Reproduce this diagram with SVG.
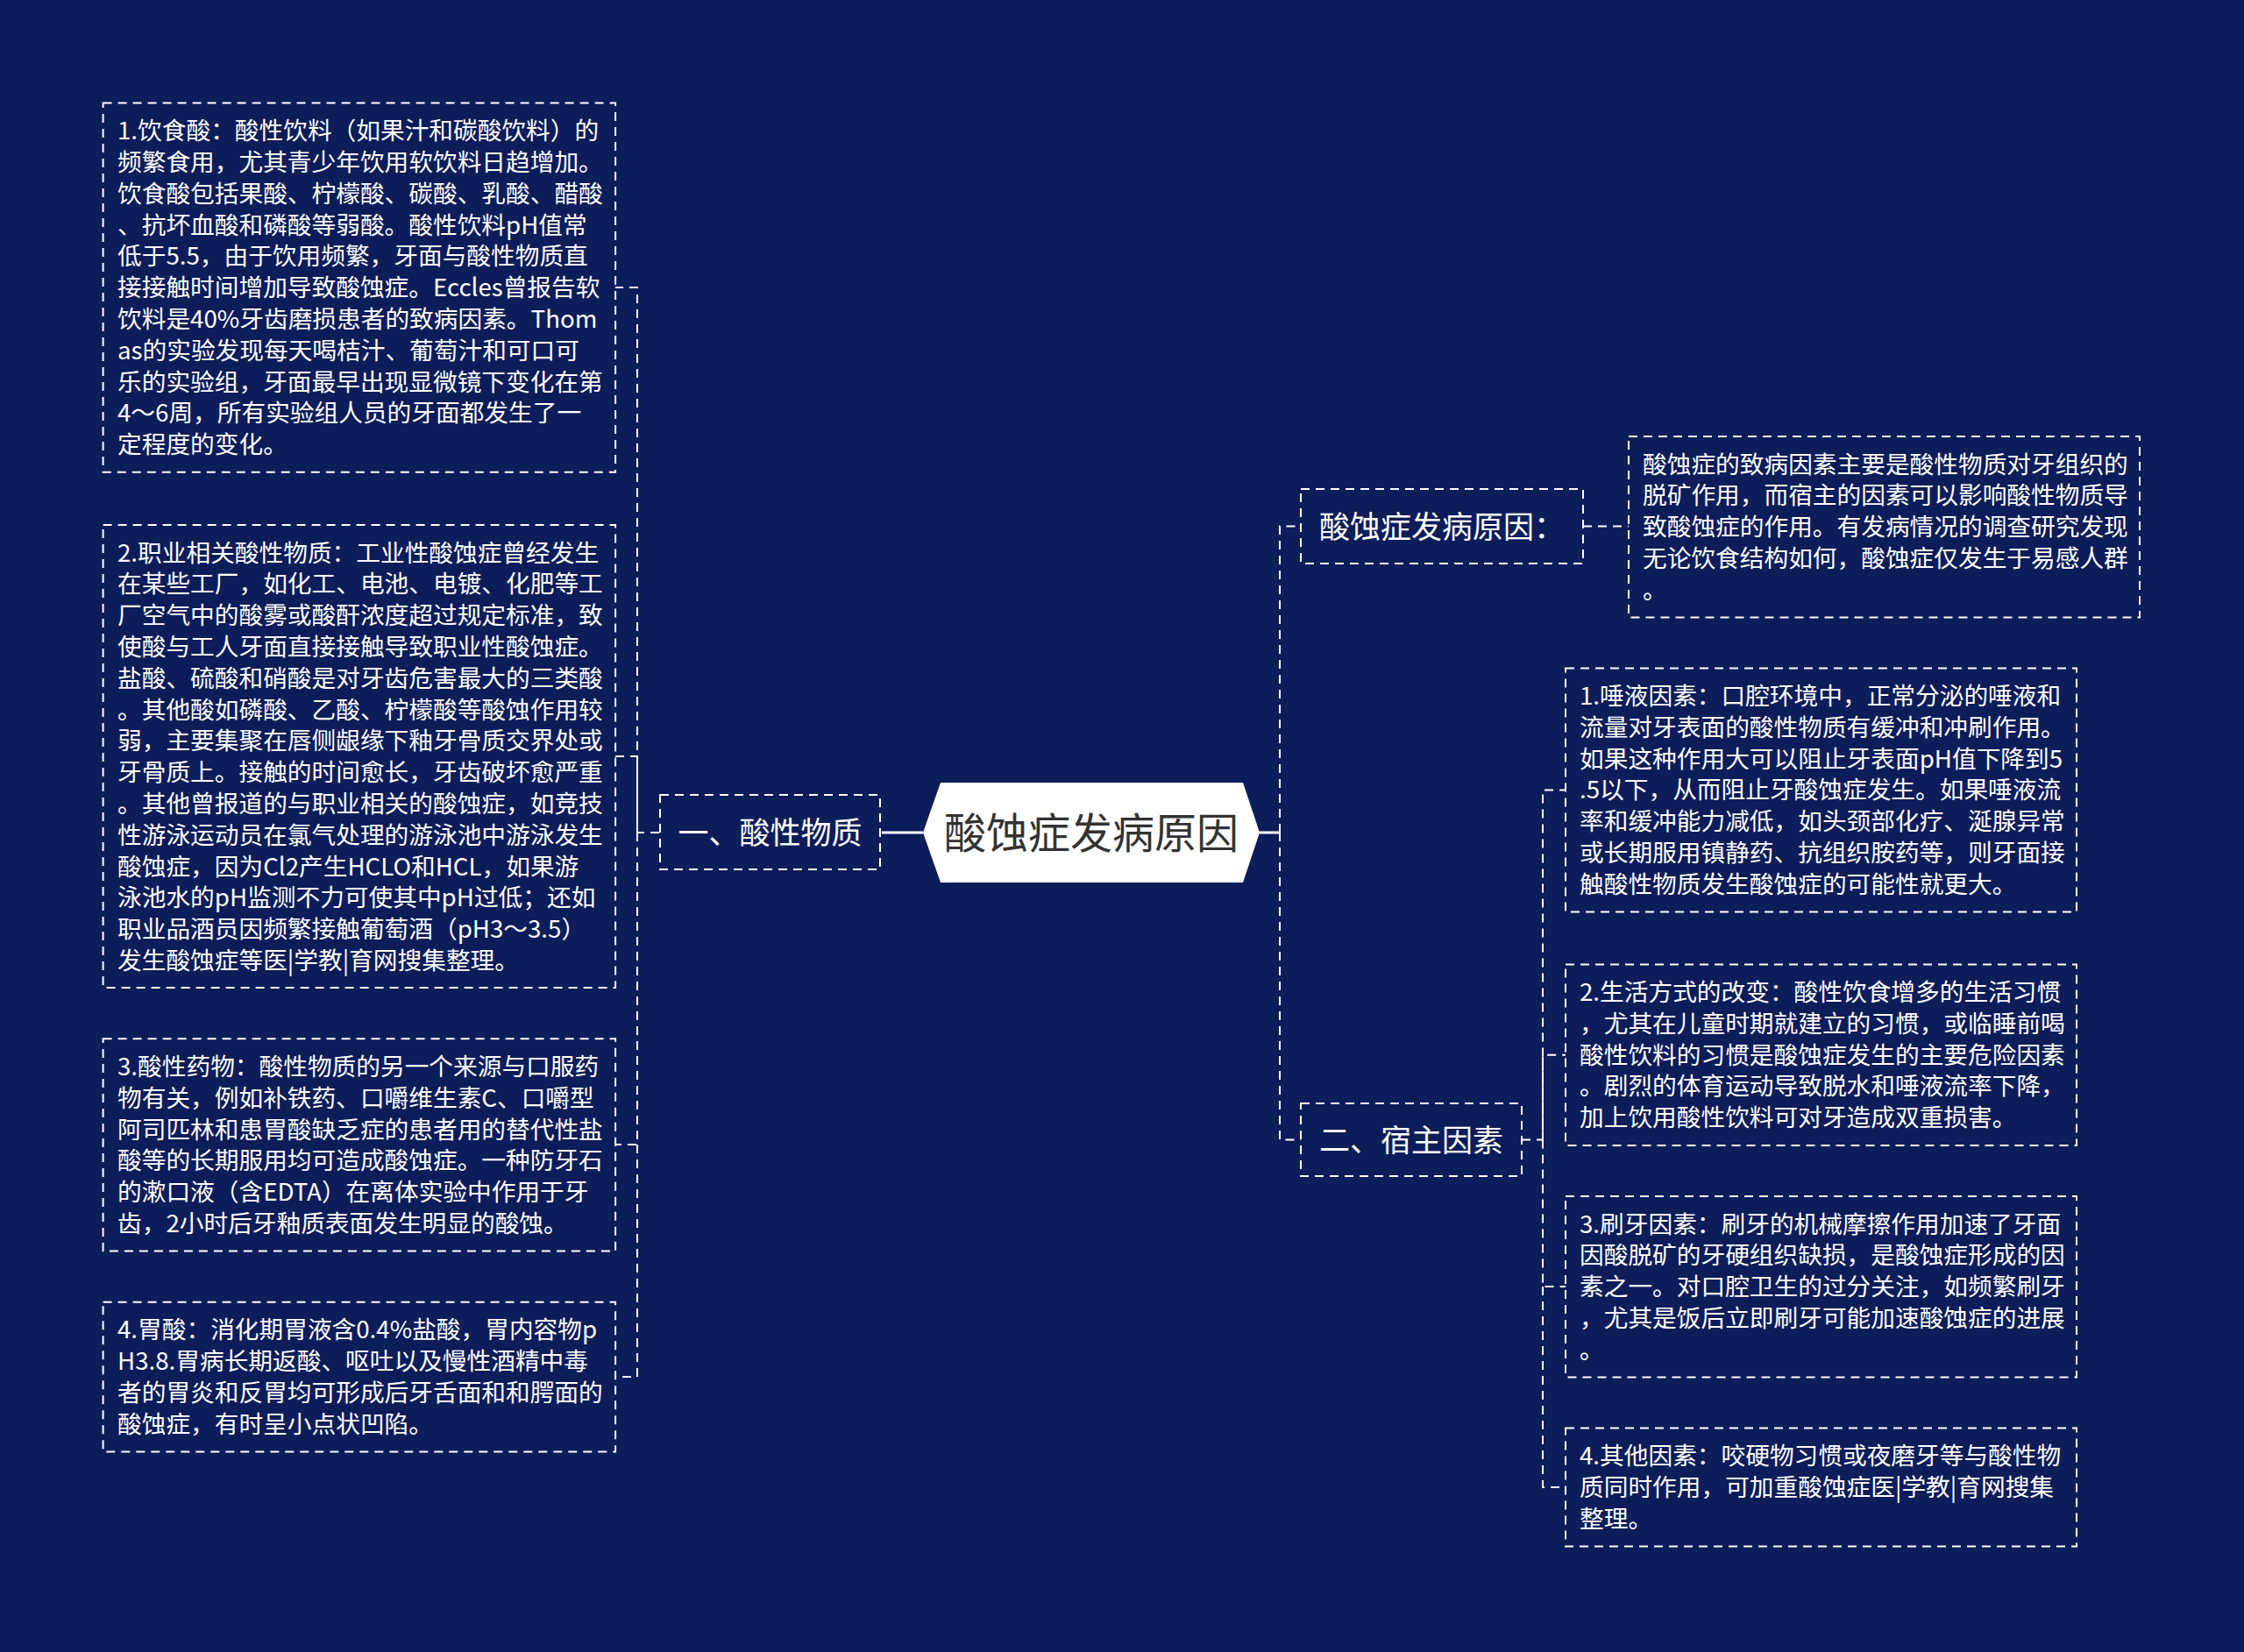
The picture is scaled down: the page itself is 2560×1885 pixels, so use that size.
<svg xmlns="http://www.w3.org/2000/svg" width="2560" height="1885" viewBox="0 0 2560 1885">
<style>
.box{fill:none;stroke:#ffffff;stroke-width:2;stroke-dasharray:10 7}
.lab{fill:none;stroke:#ffffff;stroke-width:2;stroke-dasharray:10 7}
.t{font-family:"Noto Sans CJK SC","Noto Sans",sans-serif;font-size:27.7px;fill:#ffffff}
.lt{font-family:"Noto Sans CJK SC","Noto Sans",sans-serif;font-size:35px;fill:#ffffff;text-anchor:middle}
.ct{font-family:"Noto Sans CJK SC","Noto Sans",sans-serif;font-size:48px;fill:#333333;text-anchor:middle}
.dash{fill:none;stroke:#ffffff;stroke-width:2;stroke-dasharray:10 7}
.solid{fill:none;stroke:#ffffff;stroke-width:3}
</style>
<rect x="0" y="0" width="2560" height="1885" fill="#0d1d5a"/>
<g id="connectors">
<path class="solid" d="M1006,950 H1053"/>
<path class="solid" d="M1437,950 H1460"/>
<path class="dash" d="M752,950 H727 V328 H702"/>
<path class="dash" d="M727,950 V863 H702"/>
<path class="dash" d="M727,950 V1306 H702"/>
<path class="dash" d="M727,1306 V1571 H702"/>
<path class="dash" d="M1460,950 V600.5 H1484"/>
<path class="dash" d="M1460,950 V1300.5 H1484"/>
<path class="dash" d="M1806,600.5 H1858"/>
<path class="dash" d="M1736,1300.5 H1760 V901.5 H1786"/>
<path class="dash" d="M1760,1300.5 V1203.7 H1786"/>
<path class="dash" d="M1760,1300.5 V1468 H1786"/>
<path class="dash" d="M1760,1468 V1697 H1786"/>
</g>
<g id="root">
<polygon points="1053,950 1073,893 1418,893 1437,950 1418,1007 1073,1007" fill="#ffffff"/>
<text class="ct" x="1245" y="968">酸蚀症发病原因</text>
</g>
<g id="n-acid">
<rect class="lab" x="753" y="907" width="251" height="85"/>
<text class="lt" x="878.5" y="962.5">一、酸性物质</text>
</g>
<g id="n-cause">
<rect class="lab" x="1484" y="558" width="322" height="85"/>
<text class="lt" x="1645" y="613.5">酸蚀症发病原因：</text>
</g>
<g id="n-host">
<rect class="lab" x="1484" y="1259" width="252" height="83"/>
<text class="lt" x="1610" y="1313.5">二、宿主因素</text>
</g>
<g id="n-a1">
<rect class="box" x="117.6" y="117.6" width="584.5" height="421.2"/>
<text class="t" x="134" y="159.2"><tspan x="134">1.饮食酸：酸性饮料（如果汁和碳酸饮料）的</tspan><tspan x="134" dy="35.8">频繁食用，尤其青少年饮用软饮料日趋增加。</tspan><tspan x="134" dy="35.8">饮食酸包括果酸、柠檬酸、碳酸、乳酸、醋酸</tspan><tspan x="134" dy="35.8">、抗坏血酸和磷酸等弱酸。酸性饮料pH值常</tspan><tspan x="134" dy="35.8">低于5.5，由于饮用频繁，牙面与酸性物质直</tspan><tspan x="134" dy="35.8">接接触时间增加导致酸蚀症。Eccles曾报告软</tspan><tspan x="134" dy="35.8">饮料是40%牙齿磨损患者的致病因素。Thom</tspan><tspan x="134" dy="35.8">as的实验发现每天喝桔汁、葡萄汁和可口可</tspan><tspan x="134" dy="35.8">乐的实验组，牙面最早出现显微镜下变化在第</tspan><tspan x="134" dy="35.8">4～6周，所有实验组人员的牙面都发生了一</tspan><tspan x="134" dy="35.8">定程度的变化。</tspan></text>
</g>
<g id="n-a2">
<rect class="box" x="117.6" y="599" width="584.5" height="528"/>
<text class="t" x="134" y="640.6"><tspan x="134">2.职业相关酸性物质：工业性酸蚀症曾经发生</tspan><tspan x="134" dy="35.8">在某些工厂，如化工、电池、电镀、化肥等工</tspan><tspan x="134" dy="35.8">厂空气中的酸雾或酸酐浓度超过规定标准，致</tspan><tspan x="134" dy="35.8">使酸与工人牙面直接接触导致职业性酸蚀症。</tspan><tspan x="134" dy="35.8">盐酸、硫酸和硝酸是对牙齿危害最大的三类酸</tspan><tspan x="134" dy="35.8">。其他酸如磷酸、乙酸、柠檬酸等酸蚀作用较</tspan><tspan x="134" dy="35.8">弱，主要集聚在唇侧龈缘下釉牙骨质交界处或</tspan><tspan x="134" dy="35.8">牙骨质上。接触的时间愈长，牙齿破坏愈严重</tspan><tspan x="134" dy="35.8">。其他曾报道的与职业相关的酸蚀症，如竞技</tspan><tspan x="134" dy="35.8">性游泳运动员在氯气处理的游泳池中游泳发生</tspan><tspan x="134" dy="35.8">酸蚀症，因为Cl2产生HCLO和HCL，如果游</tspan><tspan x="134" dy="35.8">泳池水的pH监测不力可使其中pH过低；还如</tspan><tspan x="134" dy="35.8">职业品酒员因频繁接触葡萄酒（pH3～3.5）</tspan><tspan x="134" dy="35.8">发生酸蚀症等医|学教|育网搜集整理。</tspan></text>
</g>
<g id="n-a3">
<rect class="box" x="117.6" y="1185.3" width="584.5" height="242.3"/>
<text class="t" x="134" y="1227"><tspan x="134">3.酸性药物：酸性物质的另一个来源与口服药</tspan><tspan x="134" dy="35.8">物有关，例如补铁药、口嚼维生素C、口嚼型</tspan><tspan x="134" dy="35.8">阿司匹林和患胃酸缺乏症的患者用的替代性盐</tspan><tspan x="134" dy="35.8">酸等的长期服用均可造成酸蚀症。一种防牙石</tspan><tspan x="134" dy="35.8">的漱口液（含EDTA）在离体实验中作用于牙</tspan><tspan x="134" dy="35.8">齿，2小时后牙釉质表面发生明显的酸蚀。</tspan></text>
</g>
<g id="n-a4">
<rect class="box" x="117.6" y="1485.8" width="584.5" height="170.7"/>
<text class="t" x="134" y="1527.4"><tspan x="134">4.胃酸：消化期胃液含0.4%盐酸，胃内容物p</tspan><tspan x="134" dy="35.8">H3.8.胃病长期返酸、呕吐以及慢性酒精中毒</tspan><tspan x="134" dy="35.8">者的胃炎和反胃均可形成后牙舌面和和腭面的</tspan><tspan x="134" dy="35.8">酸蚀症，有时呈小点状凹陷。</tspan></text>
</g>
<g id="n-desc">
<rect class="box" x="1858" y="498" width="583" height="206.5"/>
<text class="t" x="1874" y="539.6"><tspan x="1874">酸蚀症的致病因素主要是酸性物质对牙组织的</tspan><tspan x="1874" dy="35.8">脱矿作用，而宿主的因素可以影响酸性物质导</tspan><tspan x="1874" dy="35.8">致酸蚀症的作用。有发病情况的调查研究发现</tspan><tspan x="1874" dy="35.8">无论饮食结构如何，酸蚀症仅发生于易感人群</tspan><tspan x="1874" dy="35.8">。</tspan></text>
</g>
<g id="n-h1">
<rect class="box" x="1786" y="762.5" width="583" height="278"/>
<text class="t" x="1802" y="804"><tspan x="1802">1.唾液因素：口腔环境中，正常分泌的唾液和</tspan><tspan x="1802" dy="35.8">流量对牙表面的酸性物质有缓冲和冲刷作用。</tspan><tspan x="1802" dy="35.8">如果这种作用大可以阻止牙表面pH值下降到5</tspan><tspan x="1802" dy="35.8">.5以下，从而阻止牙酸蚀症发生。如果唾液流</tspan><tspan x="1802" dy="35.8">率和缓冲能力减低，如头颈部化疗、涎腺异常</tspan><tspan x="1802" dy="35.8">或长期服用镇静药、抗组织胺药等，则牙面接</tspan><tspan x="1802" dy="35.8">触酸性物质发生酸蚀症的可能性就更大。</tspan></text>
</g>
<g id="n-h2">
<rect class="box" x="1786" y="1100.4" width="583" height="206.5"/>
<text class="t" x="1802" y="1142"><tspan x="1802">2.生活方式的改变：酸性饮食增多的生活习惯</tspan><tspan x="1802" dy="35.8">，尤其在儿童时期就建立的习惯，或临睡前喝</tspan><tspan x="1802" dy="35.8">酸性饮料的习惯是酸蚀症发生的主要危险因素</tspan><tspan x="1802" dy="35.8">。剧烈的体育运动导致脱水和唾液流率下降，</tspan><tspan x="1802" dy="35.8">加上饮用酸性饮料可对牙造成双重损害。</tspan></text>
</g>
<g id="n-h3">
<rect class="box" x="1786" y="1365" width="583" height="206.5"/>
<text class="t" x="1802" y="1406.6"><tspan x="1802">3.刷牙因素：刷牙的机械摩擦作用加速了牙面</tspan><tspan x="1802" dy="35.8">因酸脱矿的牙硬组织缺损，是酸蚀症形成的因</tspan><tspan x="1802" dy="35.8">素之一。对口腔卫生的过分关注，如频繁刷牙</tspan><tspan x="1802" dy="35.8">，尤其是饭后立即刷牙可能加速酸蚀症的进展</tspan><tspan x="1802" dy="35.8">。</tspan></text>
</g>
<g id="n-h4">
<rect class="box" x="1786" y="1629.4" width="583" height="135"/>
<text class="t" x="1802" y="1671"><tspan x="1802">4.其他因素：咬硬物习惯或夜磨牙等与酸性物</tspan><tspan x="1802" dy="35.8">质同时作用，可加重酸蚀症医|学教|育网搜集</tspan><tspan x="1802" dy="35.8">整理。</tspan></text>
</g>
</svg>
